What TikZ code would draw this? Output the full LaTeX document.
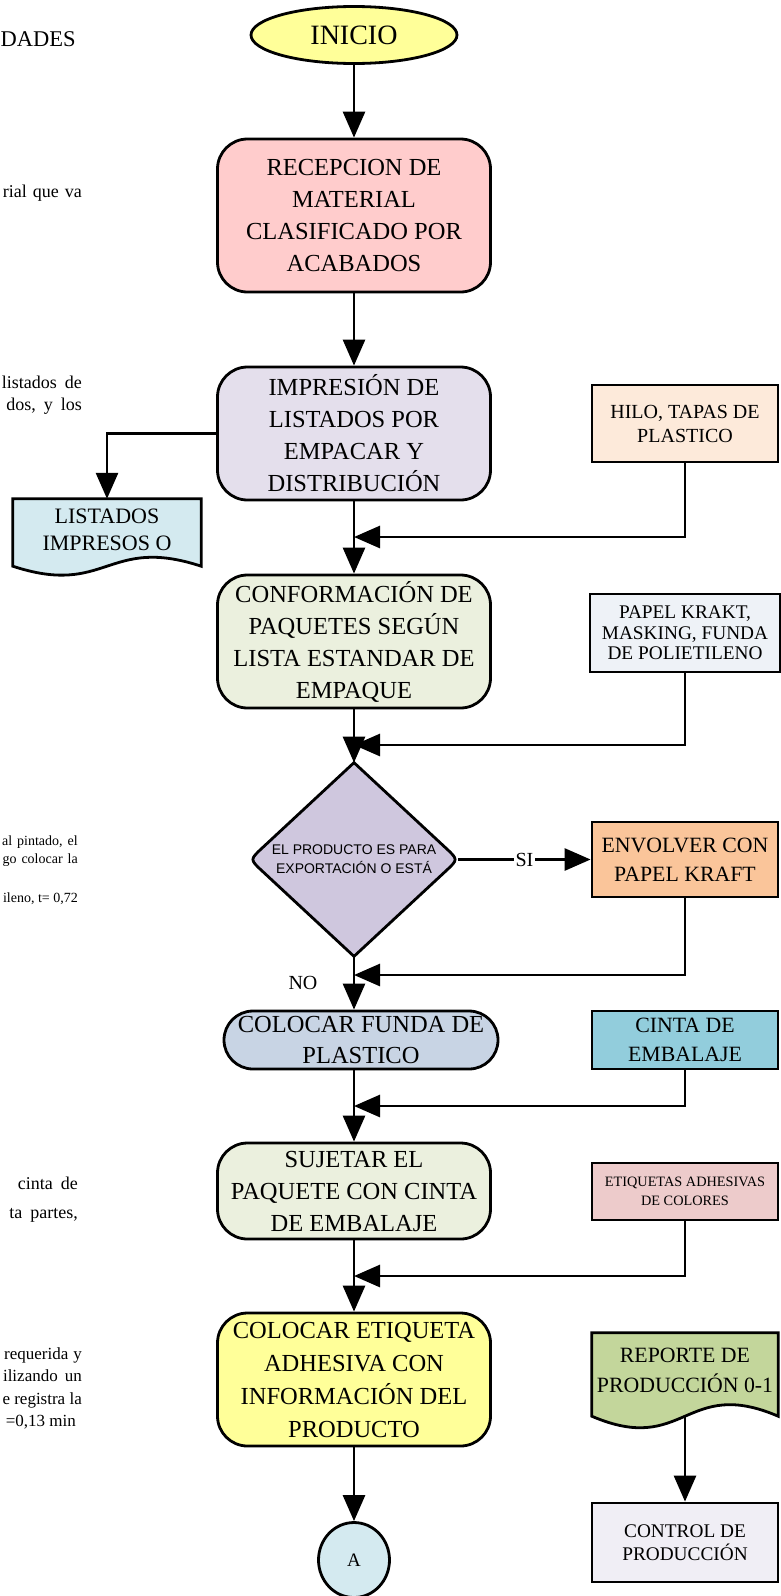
\documentclass[tikz,border=0pt]{standalone}
\usepackage{fontspec}
\setmainfont{Liberation Serif}
\setsansfont{Liberation Sans}
\usetikzlibrary{arrows.meta,shapes.geometric,calc,backgrounds}

\definecolor{cYellow}{HTML}{FFFF99}
\definecolor{cRecep}{HTML}{FFCCCC}
\definecolor{cImpr}{HTML}{E4DFEC}
\definecolor{cConf}{HTML}{EBF0DE}
\definecolor{cDec}{HTML}{CFC7DE}
\definecolor{cFunda}{HTML}{C8D4E4}
\definecolor{cAqua}{HTML}{D4EAF0}
\definecolor{cHilo}{HTML}{FDEADA}
\definecolor{cPapel}{HTML}{EEF2F7}
\definecolor{cEnv}{HTML}{FAC59A}
\definecolor{cCinta}{HTML}{92CDDC}
\definecolor{cEtiq}{HTML}{EDCBCB}
\definecolor{cRep}{HTML}{C3D69B}
\definecolor{cCtrl}{HTML}{F0EEF5}

\newcommand\setfs[2]{\fontsize{#1}{#2}\selectfont}

\begin{document}
\begin{tikzpicture}[x=1pt,y=-1pt,
  every node/.style={inner sep=0pt, align=center, text=black},
  boxline/.style={draw=black, line width=2.8pt},
  proc/.style={boxline, rectangle, rounded corners=30pt, minimum width=273pt, font=\setfs{24.5}{32}},
  mat/.style={boxline, rectangle, minimum width=186pt},
  conn/.style={line width=2.8pt, draw=black},
  arr/.style={conn, -{Triangle[length=26pt,width=22pt]}},
  pagetxt/.style={anchor=base east},
  lbl/.style={font=\setfs{20}{22}},
]
\useasboundingbox (0,0) rectangle (781,1596);

% running text of the page beside the chart
\node[anchor=base west, font=\setfs{22.5}{26}] (t1) at (0.5,46) {DADES};
\node[pagetxt, font=\setfs{18}{22}] (t2) at (82,197) {rial\hspace{6pt}que\hspace{6pt}va};
\node[pagetxt, font=\setfs{18}{22}] (t3) at (82,388) {listados\hspace{8pt}de};
\node[pagetxt, font=\setfs{18}{22}] (t4) at (82,410) {dos,\hspace{8pt}y\hspace{8pt}los};
\node[pagetxt, font=\setfs{14}{18}] (t5) at (78,845) {al\hspace{5pt}pintado,\hspace{5pt}el};
\node[pagetxt, font=\setfs{14}{18}] (t6) at (78,863) {go\hspace{5pt}colocar\hspace{5pt}la};
\node[pagetxt, font=\setfs{14}{18}] (t7) at (78,902) {ileno, t= 0,72};
\node[pagetxt, font=\setfs{18}{22}] (t8) at (78,1189) {cinta\hspace{8pt}de};
\node[pagetxt, font=\setfs{18}{22}] (t9) at (78,1218) {ta\hspace{8pt}partes,};
\node[pagetxt, font=\setfs{17}{22}] (t10) at (82,1359) {requerida\hspace{5pt}y};
\node[pagetxt, font=\setfs{17}{22}] (t11) at (82,1381) {ilizando\hspace{7pt}un};
\node[pagetxt, font=\setfs{17}{22}] (t12) at (82,1404) {e registra la};
\node[pagetxt, font=\setfs{17}{22}] (t13) at (76,1426) {=0,13 min};

% main column
\node[boxline, ellipse, fill=cYellow, minimum width=206pt, minimum height=57pt, font=\setfs{28}{30}] (inicio) at (354,35) {INICIO};
\node[proc, fill=cRecep, minimum height=153pt] (recep) at (354,215.5) {RECEPCION DE\\MATERIAL\\CLASIFICADO POR\\ACABADOS};
\node[proc, fill=cImpr, minimum height=133pt] (impr) at (354,433.5) {IMPRESIÓN DE\\LISTADOS POR\\EMPACAR Y\\DISTRIBUCIÓN};
\node[proc, fill=cConf, minimum height=133pt] (conf) at (354,641.5) {CONFORMACIÓN DE\\PAQUETES SEGÚN\\LISTA ESTANDAR DE\\EMPAQUE};
\node[diamond, minimum width=208pt, minimum height=188pt, font=\sffamily\setfs{14}{19}] (dec) at (354,859.5) {EL PRODUCTO ES PARA\\EXPORTACIÓN O ESTÁ};
\node[proc, rounded corners=29pt, fill=cFunda, minimum width=274pt, minimum height=58pt, font=\setfs{24.5}{31}] (funda) at (361,1040) {COLOCAR FUNDA DE\\PLASTICO};
\node[proc, fill=cConf, minimum height=96pt] (suj) at (354,1191) {SUJETAR EL\\PAQUETE CON CINTA\\DE EMBALAJE};
\node[proc, fill=cYellow, minimum height=133pt, font=\setfs{24.5}{33}] (coloc) at (354,1379.5) {COLOCAR ETIQUETA\\ADHESIVA CON\\INFORMACIÓN DEL\\PRODUCTO};
\node[boxline, ellipse, fill=cAqua, minimum width=71pt, minimum height=75pt, font=\setfs{19}{22}] (conA) at (354,1560) {A};

% document output on the left
\node[font=\setfs{22}{27}, minimum width=188pt, minimum height=61pt] (list) at (107,529.5) {LISTADOS\\IMPRESOS O};

% right column: materials and records
\node[mat, fill=cHilo, minimum height=77pt, font=\setfs{20}{24}] (hilo) at (685,423.5) {HILO, TAPAS DE\\PLASTICO};
\node[mat, fill=cPapel, minimum width=190pt, minimum height=78pt, font=\setfs{19.3}{20.5}] (papel) at (685,633) {PAPEL KRAKT,\\MASKING, FUNDA\\DE POLIETILENO};
\node[mat, fill=cEnv, minimum height=75pt, font=\setfs{21.8}{29}] (env) at (685,859.5) {ENVOLVER CON\\PAPEL KRAFT};
\node[mat, fill=cCinta, minimum height=58pt, font=\setfs{21.8}{29}] (cinta) at (685,1040) {CINTA DE\\EMBALAJE};
\node[mat, fill=cEtiq, minimum height=57pt, font=\setfs{14.3}{19}] (etiq) at (685,1191.5) {ETIQUETAS ADHESIVAS\\DE COLORES};
\node[font=\setfs{21.8}{30}, minimum width=186pt, minimum height=74pt] (rep) at (685,1370) {REPORTE DE\\PRODUCCIÓN 0-1};
\node[mat, fill=cCtrl, minimum height=79pt, font=\setfs{19.3}{23}] (ctrl) at (685,1542.5) {CONTROL DE\\PRODUCCIÓN};

% outlines of the document and decision shapes, behind their texts
\begin{scope}[on background layer]
  \filldraw[boxline, fill=cAqua] (list.north west) -- (list.north east) -- ($(list.south east)+(0,6)$)
    .. controls ($(list.south)+(0,-25)$) and ($(list.south)+(0,37)$) .. ($(list.south west)+(0,6)$) -- cycle;
  \filldraw[boxline, fill=cRep] (rep.north west) -- (rep.north east) -- ($(rep.south east)+(0,9)$)
    .. controls ($(rep.south)+(0,-31)$) and ($(rep.south)+(0,49)$) .. ($(rep.south west)+(0,9)$) -- cycle;
  \filldraw[boxline, fill=cDec] (dec.north) -- ($(dec.east)!17pt!(dec.north)$)
    .. controls (dec.east) .. ($(dec.east)!17pt!(dec.south)$) -- (dec.south)
    -- ($(dec.west)!17pt!(dec.south)$) .. controls (dec.west) .. ($(dec.west)!17pt!(dec.north)$) -- cycle;
\end{scope}

% junctions where supplies join the main flow
\coordinate (j1) at (354,537);
\coordinate (j2) at (354,745);
\coordinate (j3) at (354,975);
\coordinate (j4) at (354,1106);
\coordinate (j5) at (354,1276);

% connectors
\draw[arr] (inicio.south) -- (recep.north);
\draw[arr] (recep.south) -- (impr.north);
\draw[arr] (impr.west) -| (list.north);
\draw[arr] (impr.south) -- (conf.north);
\draw[arr] (hilo.south) |- (j1);
\draw[arr] (conf.south) -- (dec.north);
\draw[arr] (papel.south) |- (j2);
\draw[arr] (dec.east) -- node[lbl, fill=white, inner sep=1.5pt] (si) {SI} (env.west);
\draw[arr] (dec.south) -- (dec.south |- funda.north);
\node[lbl] (no) at (303,983) {NO};
\draw[arr] (env.south) |- (j3);
\draw[arr] (suj.north |- funda.south) -- (suj.north);
\draw[arr] (cinta.south) |- (j4);
\draw[arr] (suj.south) -- (coloc.north);
\draw[arr] (etiq.south) |- (j5);
\draw[arr] (coloc.south) -- (conA.north);
\draw[arr] ($(rep.south)+(0,9)$) -- (ctrl.north);
\end{tikzpicture}
\end{document}
